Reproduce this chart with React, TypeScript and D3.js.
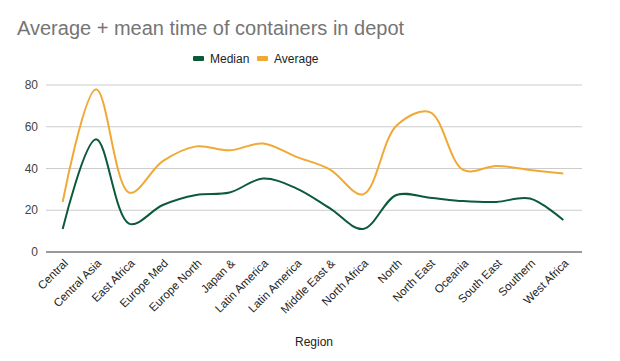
import React, { useEffect, useRef } from "react";
import * as d3 from "d3";

const regions = [
  "Central", "Central Asia", "East Africa", "Europe Med", "Europe North", "Japan &",
  "Latin America", "Latin America", "Middle East &", "North Africa", "North",
  "North East", "Oceania", "South East", "Southern", "West Africa",
];
const median = [11, 54, 13.5, 22.5, 27.3, 28.5, 35.2, 30.5, 21, 11, 27.3, 26, 24.4, 24, 25.6, 15.3];
const average = [24, 78, 28.4, 43.5, 50.6, 48.7, 52, 45.6, 39.6, 27.6, 60.5, 67, 39.3, 41.2, 39.3, 37.6];
const yTicks = [0, 20, 40, 60, 80];

const series = [
  { name: "Median", values: median, color: "#0b5a3a" },
  { name: "Average", values: average, color: "#f0a935" },
];

export default function App() {
  const svgRef = useRef<SVGSVGElement>(null);

  useEffect(() => {
    const width = 620;
    const height = 361;
    const svg = d3.select(svgRef.current).attr("width", width).attr("height", height);
    svg.selectAll("*").remove();

    const font = "Arial, 'Liberation Sans', sans-serif";
    const left = 46, right = 580, top = 85, bottom = 252;

    const x = d3.scaleBand<string>().domain(regions.map((_, i) => String(i))).range([left, right]);
    const y = d3.scaleLinear().domain([0, 80]).range([bottom, top]);
    const cx = (i: number) => (x(String(i)) as number) + x.bandwidth() / 2;

    // --- background ---
    svg.append("rect").attr("width", width).attr("height", height).attr("fill", "#fff");

    // --- title ---
    svg.append("text")
      .attr("x", 17).attr("y", 35)
      .attr("font-family", font).attr("font-size", 20)
      .attr("fill", "#757575")
      .text("Average + mean time of containers in depot");

    // --- legend ---
    const legend = svg.append("g").attr("font-family", font).attr("font-size", 12);
    const legendItems = [
      { x: 193, s: series[0] },
      { x: 257, s: series[1] },
    ];
    legendItems.forEach(({ x: lx, s }) => {
      legend.append("rect").attr("x", lx).attr("y", 56).attr("width", 11).attr("height", 5)
        .attr("rx", 1).attr("fill", s.color);
      legend.append("text").attr("x", lx + 17).attr("y", 63).attr("fill", "#222").text(s.name);
    });

    // --- grid + y labels ---
    const grid = svg.append("g");
    yTicks.forEach(t => {
      grid.append("line")
        .attr("x1", left).attr("x2", right + 2)
        .attr("y1", y(t)).attr("y2", y(t))
        .attr("stroke", t === 0 ? "#333" : "#ccc")
        .attr("stroke-width", 1);
      grid.append("text")
        .attr("x", 38).attr("y", y(t) + 4)
        .attr("text-anchor", "end")
        .attr("font-family", font).attr("font-size", 12)
        .attr("fill", "#444")
        .text(t);
    });

    // --- x labels ---
    const xl = svg.append("g").attr("font-family", font).attr("font-size", 11.5).attr("fill", "#222");
    regions.forEach((r, i) => {
      xl.append("text")
        .attr("transform", `translate(${cx(i) + 6},${bottom + 12}) rotate(-45)`)
        .attr("text-anchor", "end")
        .text(r);
    });

    svg.append("text")
      .attr("x", 314).attr("y", 346)
      .attr("text-anchor", "middle")
      .attr("font-family", font).attr("font-size", 12)
      .attr("fill", "#222")
      .text("Region");

    // --- lines ---
    const line = d3.line<number>()
      .x((_, i) => cx(i))
      .y(d => y(d))
      .curve(d3.curveCatmullRom.alpha(0.5));

    series.forEach(s => {
      svg.append("path")
        .attr("d", line(s.values))
        .attr("fill", "none")
        .attr("stroke", s.color)
        .attr("stroke-width", 2);
    });
  }, []);

  return <svg ref={svgRef} style={{ position: "absolute", left: 0, top: 0 }}></svg>;
}
